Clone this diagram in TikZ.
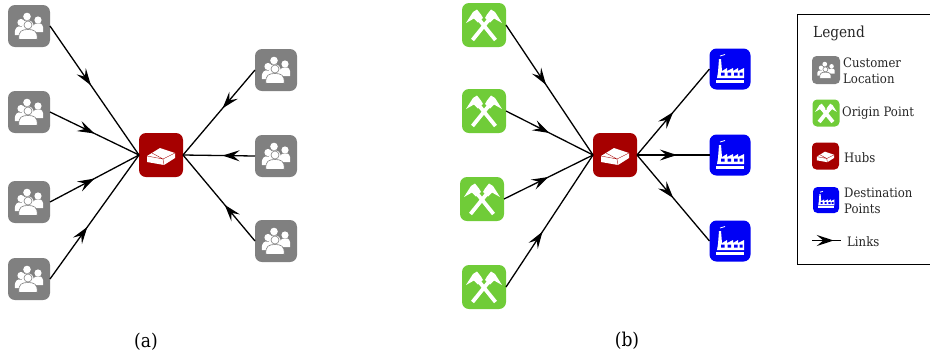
\documentclass[tikz,border=0pt]{standalone}
\usepackage{fontspec}
\setmainfont{DejaVu Serif Condensed}
\usetikzlibrary{arrows.meta,decorations.markings}
\definecolor{cgray}{RGB}{128,128,128}
\definecolor{cgreen}{RGB}{112,204,56}
\definecolor{cred}{RGB}{166,0,0}
\definecolor{cblue}{RGB}{0,0,245}
\tikzset{
  x=1pt,y=-1pt,
  iconbox/.style={rounded corners=#1,draw=none,inner sep=0pt,outer sep=0pt},
  grayn/.style={iconbox=7pt,fill=cgray,minimum size=42pt},
  greenn/.style={iconbox=7pt,fill=cgreen,minimum size=44pt},
  hubn/.style={iconbox=7pt,fill=cred,minimum size=44pt},
  bluen/.style={iconbox=7pt,fill=cblue,minimum size=41pt},
  lgray/.style={iconbox=4.5pt,fill=cgray,minimum size=28pt},
  lgreen/.style={iconbox=4.5pt,fill=cgreen,minimum size=27pt},
  lhub/.style={iconbox=4.5pt,fill=cred,minimum size=27pt},
  lblue/.style={iconbox=4.5pt,fill=cblue,minimum size=26pt},
  lbl/.style={font=\fontsize{13}{16}\selectfont,align=left,anchor=west,inner sep=0pt,text=black!85},
  link/.style={draw=black,line width=1.3pt,postaction={decorate},
    decoration={markings,mark=at position #1 with {\arrow{Stealth[length=17pt,width=11pt,inset=6.5pt]}}}},
  link/.default=0.45,
  people/.pic={
    \fill[white] (-8,-3.5) circle (3.6);
    \fill[white] (9,-6) circle (3.6);
    \fill[white] (-2,-9.5) circle (3.8);
    \fill[white] (-14,9) .. controls (-15,1) and (-11,0) .. (-8,0.5) .. controls (-5,0) and (-3,2) .. (-3,9) -- cycle;
    \fill[white] (14,6) .. controls (15,-2) and (12,-3) .. (9,-2.5) .. controls (6,-3) and (3,-1) .. (3,6) -- cycle;
    \fill[white] (-7,4) .. controls (-7,-5) and (-5,-5.5) .. (-2,-5.5) .. controls (2,-5.5) and (5,-5) .. (5,4) -- cycle;
    \filldraw[fill=white,draw=cgray,line width=.6pt] (-1,-1) circle (4);
    \filldraw[fill=white,draw=cgray,line width=.6pt] (-10,13.5) .. controls (-11,5) and (-7,3.5) .. (-1,3.5) .. controls (5,3.5) and (9,5) .. (8,13.5) -- cycle;
  },
  brick/.pic={
    \fill[white,line join=round] (-14,1) -- (-1,-7) -- (14,-2) -- (14,3) -- (3,10) -- (-14,7) -- cycle;
    \draw[cred,line width=.35pt] (-14,1) -- (2,4) -- (14,-2) (2,4) -- (3,10) (-9,-2) -- (2,4);
  },
  hammers/.pic={
    \foreach \s in {1,-1}{
      \begin{scope}[xscale=\s]
        \draw[white,line width=3.8pt] (-11.5,15) -- (7,-8);
        \fill[white] (3,-10.5) -- (7,-15.5) -- (11,-13) -- (18,-2) -- (10,-6.5) -- (6,-2.5) -- (1,-7) -- cycle;
      \end{scope}
    }
  },
  factory/.pic={
    \fill[white] (-12,3) -- (-11,-10) -- (-9,-10) -- (-8,2) -- (-3,-1) -- (-3,2) -- (3,-1) -- (3,2) -- (8,-1) -- (8,2) -- (14,-1) -- (14,9) -- (-13,9) -- cycle;
    \fill[cblue] (-9,3.5) rectangle (-5.5,6.5) (-2.5,3.5) rectangle (1,6.5) (4,3.5) rectangle (7.5,6.5) (9.5,3.5) rectangle (12.5,6.5);
    \fill[white] (-14,10.5) rectangle (14,13.5);
    \draw[white,line width=.8pt] (-10,-13) -- (-5,-14.5);
  }
}
\begin{document}
\begin{tikzpicture}
\useasboundingbox (0,0) rectangle (930,360);
% (a)
\node[hubn] (h1) at (161,155) {};
\foreach \n/\y in {a1/26,a2/112,a3/202,a4/279}{\node[grayn] (\n) at (29,\y) {}; \pic at (\n) {people};}
\foreach \n/\y in {c1/70,c2/156,c3/241}{\node[grayn] (\n) at (276,\y) {}; \pic at (\n) {people};}
\pic at (h1) {brick};
\draw[link=0.46] (a1.east) -- (h1.west);
\draw[link=0.5] (a2.east) -- (h1.west);
\draw[link=0.5] (a3.east) -- (h1.west);
\draw[link=0.42] (a4.east) -- (h1.west);
\draw[link=0.45] (c1.west) -- (h1.east);
\draw[link=0.45] (c2.west) -- (h1.east);
\draw[link=0.42] (c3.west) -- (h1.east);
% (b)
\node[hubn] (h2) at (615,155) {};
\pic at (h2) {brick};
\node[greenn] (g1) at (484,25) {}; \pic at (g1) {hammers};
\node[greenn] (g2) at (484,111) {}; \pic at (g2) {hammers};
\node[greenn] (g3) at (482,199) {}; \pic at (g3) {hammers};
\node[greenn] (g4) at (484,287) {}; \pic at (g4) {hammers};
\foreach \n/\y in {b1/69,b2/155,b3/241}{\node[bluen] (\n) at (730,\y) {}; \pic at (\n) {factory};}
\draw[link=0.46] (g1.east) -- (h2.west);
\draw[link=0.5] (g2.east) -- (h2.west);
\draw[link=0.5] (g3.east) -- (h2.west);
\draw[link=0.42] (g4.east) -- (h2.west);
\draw[link=0.5] (h2.east) -- (b1.west);
\draw[link=0.55] (h2.east) -- (b2.west);
\draw[link=0.5] (h2.east) -- (b3.west);
% captions
\node[font=\fontsize{19}{22}\selectfont] (capa) at (146,342) {(a)};
\node[font=\fontsize{19}{22}\selectfont] (capb) at (627,341) {(b)};
% legend
\node[draw=black,line width=1pt,minimum width=140pt,minimum height=250pt,anchor=north west,inner sep=0pt] (box) at (796.5,13.5) {};
\node[lbl,font=\fontsize{15.2}{18}\selectfont] (lt) at (813,33) {Legend};
\node[lgray] (l1) at (826,70) {}; \pic[scale=.62] at (l1) {people};
\node[lgreen] (l2) at (826,113) {}; \pic[scale=.6] at (l2) {hammers};
\node[lhub] (l3) at (825.5,156) {}; \pic[scale=.62] at (l3) {brick};
\node[lblue] (l4) at (826,200) {}; \pic[scale=.6] at (l4) {factory};
\node[lbl] (t1) at (843,71) {Customer\\Location};
\node[lbl] (t2) at (842,113.5) {Origin Point};
\node[lbl] (t3) at (844,158) {Hubs};
\node[lbl] (t4) at (844,201) {Destination\\Points};
\node[lbl] (t5) at (847,242) {Links};
\coordinate (la) at (812,240.5);
\coordinate (lb) at (841,240.5);
\draw[link=0.75] (la) -- (lb);
\end{tikzpicture}
\end{document}
